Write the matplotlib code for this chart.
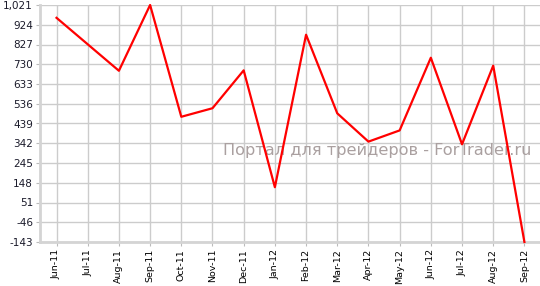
import matplotlib.pyplot as plt

months = ['Jun-11', 'Jul-11', 'Aug-11', 'Sep-11', 'Oct-11', 'Nov-11', 'Dec-11', 'Jan-12',
          'Feb-12', 'Mar-12', 'Apr-12', 'May-12', 'Jun-12', 'Jul-12', 'Aug-12', 'Sep-12']
values = [958, 828, 698, 1021, 472, 514, 700, 126,
          875, 489, 350, 405, 762, 337, 723, -143]
y_ticks = [-143, -46, 51, 148, 245, 342, 439, 536, 633, 730, 827, 924, 1021]

fig = plt.figure(figsize=(5.4, 2.86), dpi=100)
ax = fig.add_axes([40 / 540, 1 - 242 / 286, 500 / 540, 237 / 286])

x = list(range(len(months)))
ax.plot(x, values, color='#ff0000', lw=1.6, clip_on=False, zorder=3)

# водяной знак
ax.text(0.983, 0.385, 'Портал для трейдеров - ForTrader.ru', transform=ax.transAxes,
        ha='right', va='center', fontsize=11.6, color='#aaa0a0', zorder=1)

ax.set_xlim(-0.53, 15.5)
ax.set_ylim(-143, 1021)
ax.set_xticks(x)
ax.set_xticklabels(months, rotation=90, fontsize=6.8)
ax.set_yticks(y_ticks)
ax.set_yticklabels([f'{v:,}' for v in y_ticks], fontsize=7.5, color='#1a1a2a')

ax.grid(True, color='#cccccc', lw=1, zorder=0)
ax.set_axisbelow(True)
ax.tick_params(axis='both', length=3, color='#bbbbbb', pad=2)
for side in ['top', 'right']:
    ax.spines[side].set_visible(False)
for side in ['left', 'bottom']:
    ax.spines[side].set_color('#d4d4d4')
    ax.spines[side].set_linewidth(2)

fig.savefig('out.png', dpi=100)
